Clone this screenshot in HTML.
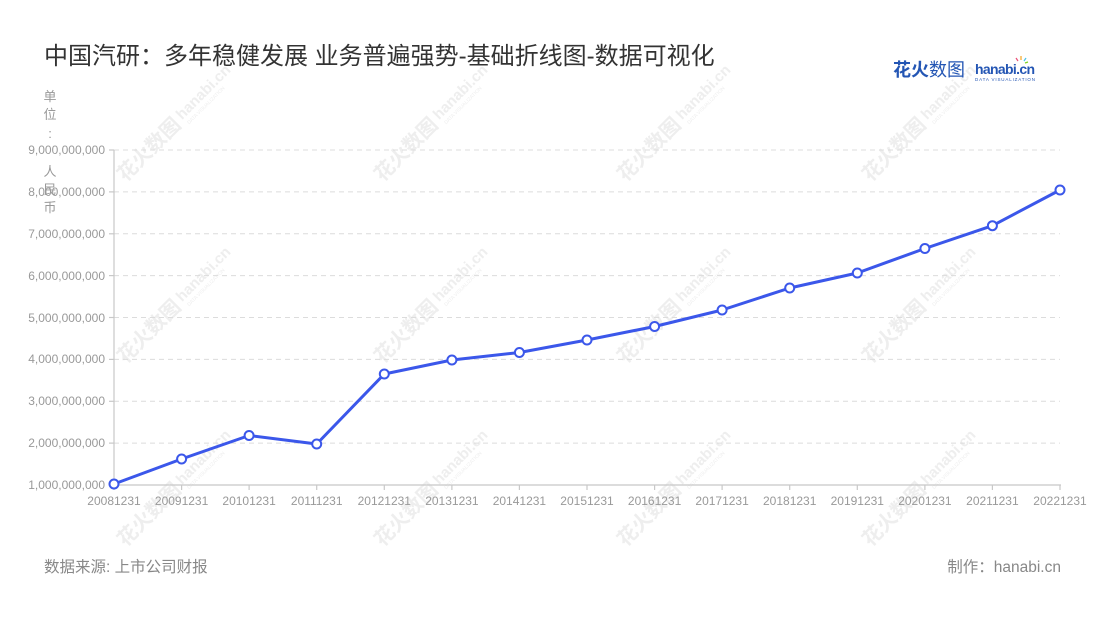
<!DOCTYPE html>
<html>
<head>
<meta charset="utf-8">
<style>
  html,body{margin:0;padding:0;background:#fff;}
  body{width:1100px;height:620px;overflow:hidden;position:relative;font-family:"Liberation Sans","Noto Sans CJK SC",sans-serif;}
  svg{position:absolute;left:0;top:0;}
  text{font-family:"Liberation Sans","Noto Sans CJK SC",sans-serif;}
</style>
</head>
<body>
<svg width="1100" height="620" viewBox="0 0 1100 620" xmlns="http://www.w3.org/2000/svg">
  <!-- watermarks -->
  <g fill="#eeeeee" font-family="'Noto Sans CJK SC',sans-serif">
    <g transform="translate(170,128) rotate(-45)">
      <text x="-70" y="7" font-size="20" font-weight="bold">花火数图</text>
      <text x="14" y="3" font-size="15" font-weight="bold">hanabi.cn</text>
      <text x="16" y="11" font-size="5">DATA VISUALIZATION</text>
    </g>
    <g transform="translate(427,128) rotate(-45)">
      <text x="-70" y="7" font-size="20" font-weight="bold">花火数图</text>
      <text x="14" y="3" font-size="15" font-weight="bold">hanabi.cn</text>
      <text x="16" y="11" font-size="5">DATA VISUALIZATION</text>
    </g>
    <g transform="translate(670,128) rotate(-45)">
      <text x="-70" y="7" font-size="20" font-weight="bold">花火数图</text>
      <text x="14" y="3" font-size="15" font-weight="bold">hanabi.cn</text>
      <text x="16" y="11" font-size="5">DATA VISUALIZATION</text>
    </g>
    <g transform="translate(915,128) rotate(-45)">
      <text x="-70" y="7" font-size="20" font-weight="bold">花火数图</text>
      <text x="14" y="3" font-size="15" font-weight="bold">hanabi.cn</text>
      <text x="16" y="11" font-size="5">DATA VISUALIZATION</text>
    </g>
    <g transform="translate(170,310) rotate(-45)">
      <text x="-70" y="7" font-size="20" font-weight="bold">花火数图</text>
      <text x="14" y="3" font-size="15" font-weight="bold">hanabi.cn</text>
      <text x="16" y="11" font-size="5">DATA VISUALIZATION</text>
    </g>
    <g transform="translate(427,310) rotate(-45)">
      <text x="-70" y="7" font-size="20" font-weight="bold">花火数图</text>
      <text x="14" y="3" font-size="15" font-weight="bold">hanabi.cn</text>
      <text x="16" y="11" font-size="5">DATA VISUALIZATION</text>
    </g>
    <g transform="translate(670,310) rotate(-45)">
      <text x="-70" y="7" font-size="20" font-weight="bold">花火数图</text>
      <text x="14" y="3" font-size="15" font-weight="bold">hanabi.cn</text>
      <text x="16" y="11" font-size="5">DATA VISUALIZATION</text>
    </g>
    <g transform="translate(915,310) rotate(-45)">
      <text x="-70" y="7" font-size="20" font-weight="bold">花火数图</text>
      <text x="14" y="3" font-size="15" font-weight="bold">hanabi.cn</text>
      <text x="16" y="11" font-size="5">DATA VISUALIZATION</text>
    </g>
    <g transform="translate(170,493) rotate(-45)">
      <text x="-70" y="7" font-size="20" font-weight="bold">花火数图</text>
      <text x="14" y="3" font-size="15" font-weight="bold">hanabi.cn</text>
      <text x="16" y="11" font-size="5">DATA VISUALIZATION</text>
    </g>
    <g transform="translate(427,493) rotate(-45)">
      <text x="-70" y="7" font-size="20" font-weight="bold">花火数图</text>
      <text x="14" y="3" font-size="15" font-weight="bold">hanabi.cn</text>
      <text x="16" y="11" font-size="5">DATA VISUALIZATION</text>
    </g>
    <g transform="translate(670,493) rotate(-45)">
      <text x="-70" y="7" font-size="20" font-weight="bold">花火数图</text>
      <text x="14" y="3" font-size="15" font-weight="bold">hanabi.cn</text>
      <text x="16" y="11" font-size="5">DATA VISUALIZATION</text>
    </g>
    <g transform="translate(915,493) rotate(-45)">
      <text x="-70" y="7" font-size="20" font-weight="bold">花火数图</text>
      <text x="14" y="3" font-size="15" font-weight="bold">hanabi.cn</text>
      <text x="16" y="11" font-size="5">DATA VISUALIZATION</text>
    </g>
  </g>

  <!-- title -->
  <text x="44" y="64" font-size="24" fill="#333" font-family="'Liberation Sans','Noto Sans CJK SC',sans-serif">中国汽研：多年稳健发展 业务普遍强势-基础折线图-数据可视化</text>

  <!-- logo -->
  <text x="893" y="76" font-size="18" fill="#2456b4" font-weight="bold" font-family="'Noto Sans CJK SC',sans-serif">花火<tspan font-weight="normal">数图</tspan></text>
  <text x="975" y="74" font-size="14" fill="#2456b4" font-weight="bold" font-family="'Liberation Sans',sans-serif" textLength="60">hanabi.cn</text>
  <text x="975" y="81" font-size="4.5" fill="#2456b4" font-family="'Liberation Sans',sans-serif" textLength="60">DATA VISUALIZATION</text>
  <g stroke-width="1.2">
    <line x1="1021" y1="60" x2="1021" y2="56" stroke="#f5a623"/>
    <line x1="1018" y1="61" x2="1016" y2="58" stroke="#e94e77"/>
    <line x1="1024" y1="61" x2="1026" y2="58" stroke="#4cc3e8"/>
    <line x1="1025" y1="63" x2="1028" y2="62" stroke="#7ed321"/>
  </g>

  <!-- unit label vertical -->
  <g font-size="13" fill="#999" text-anchor="middle" font-family="'Liberation Sans','Noto Sans CJK SC',sans-serif">
    <text x="50" y="101">单</text>
    <text x="50" y="119">位</text>
    <text x="50" y="138">:</text>
    <text x="50" y="176">人</text>
    <text x="50" y="194">民</text>
    <text x="50" y="212">币</text>
  </g>

  <!-- gridlines -->
  <g stroke="#dcdcdc" stroke-width="1" stroke-dasharray="5,4">
    <line x1="114" y1="150" x2="1060" y2="150"/>
    <line x1="114" y1="191.9" x2="1060" y2="191.9"/>
    <line x1="114" y1="233.8" x2="1060" y2="233.8"/>
    <line x1="114" y1="275.6" x2="1060" y2="275.6"/>
    <line x1="114" y1="317.5" x2="1060" y2="317.5"/>
    <line x1="114" y1="359.4" x2="1060" y2="359.4"/>
    <line x1="114" y1="401.3" x2="1060" y2="401.3"/>
    <line x1="114" y1="443.1" x2="1060" y2="443.1"/>
  </g>

  <!-- axes -->
  <g stroke="#c8c8c8" stroke-width="1.2">
    <line x1="114" y1="150" x2="114" y2="485"/>
    <line x1="114" y1="485" x2="1061" y2="485"/>
    <line x1="109" y1="150" x2="114" y2="150"/>
    <line x1="109" y1="191.9" x2="114" y2="191.9"/>
    <line x1="109" y1="233.8" x2="114" y2="233.8"/>
    <line x1="109" y1="275.6" x2="114" y2="275.6"/>
    <line x1="109" y1="317.5" x2="114" y2="317.5"/>
    <line x1="109" y1="359.4" x2="114" y2="359.4"/>
    <line x1="109" y1="401.3" x2="114" y2="401.3"/>
    <line x1="109" y1="443.1" x2="114" y2="443.1"/>
    <line x1="109" y1="485" x2="114" y2="485"/>
    <line x1="114" y1="485" x2="114" y2="490"/>
    <line x1="181.6" y1="485" x2="181.6" y2="490"/>
    <line x1="249.1" y1="485" x2="249.1" y2="490"/>
    <line x1="316.7" y1="485" x2="316.7" y2="490"/>
    <line x1="384.3" y1="485" x2="384.3" y2="490"/>
    <line x1="451.9" y1="485" x2="451.9" y2="490"/>
    <line x1="519.4" y1="485" x2="519.4" y2="490"/>
    <line x1="587" y1="485" x2="587" y2="490"/>
    <line x1="654.6" y1="485" x2="654.6" y2="490"/>
    <line x1="722.1" y1="485" x2="722.1" y2="490"/>
    <line x1="789.7" y1="485" x2="789.7" y2="490"/>
    <line x1="857.3" y1="485" x2="857.3" y2="490"/>
    <line x1="924.9" y1="485" x2="924.9" y2="490"/>
    <line x1="992.4" y1="485" x2="992.4" y2="490"/>
    <line x1="1060" y1="485" x2="1060" y2="490"/>
  </g>

  <!-- y labels -->
  <g font-size="12" fill="#999" text-anchor="end" font-family="'Liberation Sans',sans-serif">
    <text x="105" y="154">9,000,000,000</text>
    <text x="105" y="196">8,000,000,000</text>
    <text x="105" y="238">7,000,000,000</text>
    <text x="105" y="280">6,000,000,000</text>
    <text x="105" y="322">5,000,000,000</text>
    <text x="105" y="363">4,000,000,000</text>
    <text x="105" y="405">3,000,000,000</text>
    <text x="105" y="447">2,000,000,000</text>
    <text x="105" y="489">1,000,000,000</text>
  </g>

  <!-- x labels -->
  <g font-size="12" fill="#999" text-anchor="middle" font-family="'Liberation Sans',sans-serif">
    <text x="114" y="505">20081231</text>
    <text x="181.6" y="505">20091231</text>
    <text x="249.1" y="505">20101231</text>
    <text x="316.7" y="505">20111231</text>
    <text x="384.3" y="505">20121231</text>
    <text x="451.9" y="505">20131231</text>
    <text x="519.4" y="505">20141231</text>
    <text x="587" y="505">20151231</text>
    <text x="654.6" y="505">20161231</text>
    <text x="722.1" y="505">20171231</text>
    <text x="789.7" y="505">20181231</text>
    <text x="857.3" y="505">20191231</text>
    <text x="924.9" y="505">20201231</text>
    <text x="992.4" y="505">20211231</text>
    <text x="1060" y="505">20221231</text>
  </g>

  <!-- series -->
  <polyline fill="none" stroke="#3b57ea" stroke-width="3" stroke-linejoin="round"
    points="114,484 181.6,459 249.1,435.5 316.7,444 384.3,374 451.9,360 519.4,352.5 587,340 654.6,326.5 722.1,310 789.7,288 857.3,273 924.9,248.5 992.4,225.7 1060,190"/>
  <g fill="#fff" stroke="#3b57ea" stroke-width="2">
    <circle cx="114" cy="484" r="4.5"/>
    <circle cx="181.6" cy="459" r="4.5"/>
    <circle cx="249.1" cy="435.5" r="4.5"/>
    <circle cx="316.7" cy="444" r="4.5"/>
    <circle cx="384.3" cy="374" r="4.5"/>
    <circle cx="451.9" cy="360" r="4.5"/>
    <circle cx="519.4" cy="352.5" r="4.5"/>
    <circle cx="587" cy="340" r="4.5"/>
    <circle cx="654.6" cy="326.5" r="4.5"/>
    <circle cx="722.1" cy="310" r="4.5"/>
    <circle cx="789.7" cy="288" r="4.5"/>
    <circle cx="857.3" cy="273" r="4.5"/>
    <circle cx="924.9" cy="248.5" r="4.5"/>
    <circle cx="992.4" cy="225.7" r="4.5"/>
    <circle cx="1060" cy="190" r="4.5"/>
  </g>

  <!-- footer -->
  <text x="44" y="572" font-size="15.5" fill="#888" font-family="'Noto Sans CJK SC',sans-serif">数据来源: 上市公司财报</text>
  <text x="1061" y="572" font-size="15.5" fill="#888" text-anchor="end" font-family="'Noto Sans CJK SC',sans-serif">制作：hanabi.cn</text>
</svg>
</body>
</html>
